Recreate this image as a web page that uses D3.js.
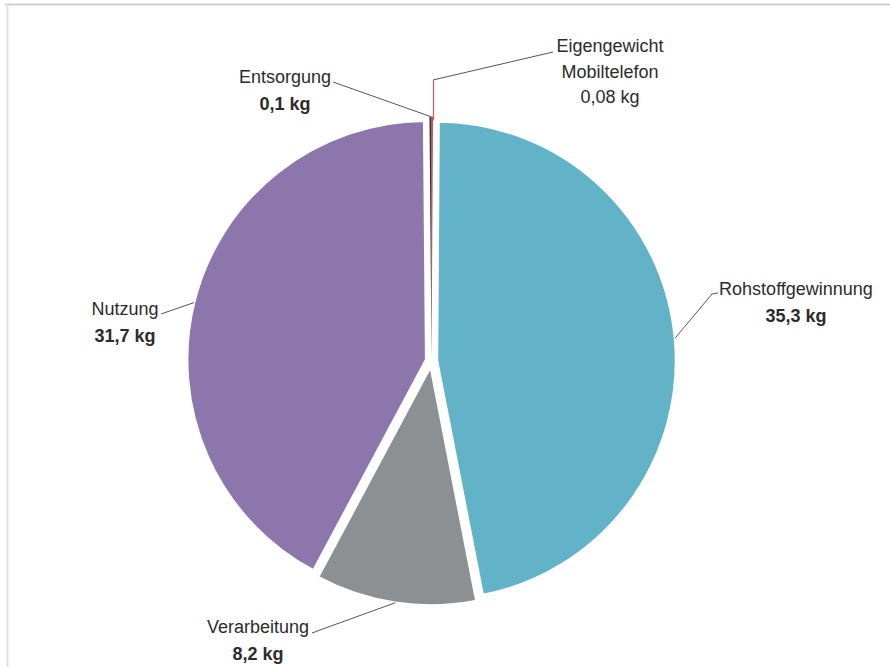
<!DOCTYPE html>
<html><head><meta charset="utf-8">
<script src="https://cdn.jsdelivr.net/npm/d3@7"></script>
<style>html,body{margin:0;padding:0;background:#fff;}svg{display:block;}</style>
</head><body>
<svg id="chart" width="890" height="667"></svg>
<script>
// Data
const categories = ["Eigengewicht Mobiltelefon", "Rohstoffgewinnung", "Verarbeitung", "Nutzung", "Entsorgung"];
const values = [0.08, 35.3, 8.2, 31.7, 0.1];
const nameLines = [["Eigengewicht", "Mobiltelefon"], ["Rohstoffgewinnung"], ["Verarbeitung"], ["Nutzung"], ["Entsorgung"]];
const valueLabels = ["0,08 kg", "35,3 kg", "8,2 kg", "31,7 kg", "0,1 kg"];
const boldValue = [false, true, true, true, true];
const colors = ["#c95a5f", "#62b2c8", "#8d9093", "#8c76ac", "#3f2b2e"];

// Layout
const W = 890, H = 667;
const cx = 431.5, cy = 361, R = 239, explode = 5.5;
// label anchor (text center x, first baseline y) per slice
const labelPos = [[610, 52], [796, 295], [258, 633], [125, 315], [285, 83]];
// elbow points of leader lines (text side)
const leaderText = [[[553, 52], [433, 80]], [[718, 293], [712, 294]], [[312, 633], [320, 630]], [[161, 314]], [[333, 82]]];

const svg = d3.select("#chart");
svg.append("line").attr("x1", 5).attr("x2", W).attr("y1", 4.5).attr("y2", 4.5)
  .attr("stroke", "#c4c4c4").attr("stroke-width", 1.5);
svg.append("line").attr("x1", 7.5).attr("x2", 7.5).attr("y1", 4).attr("y2", H)
  .attr("stroke", "#e2e2e2").attr("stroke-width", 2);

const pie = d3.pie().sort(null).value(d => d)
  .startAngle(0).endAngle(2 * Math.PI);
const arcs = pie(values);
const arcGen = d3.arc().innerRadius(0).outerRadius(R);

const g = svg.append("g").attr("transform", `translate(${cx},${cy})`);
function offset(a) {
  const m = (a.startAngle + a.endAngle) / 2;
  return [explode * Math.sin(m), -explode * Math.cos(m)];
}
g.selectAll("path.slice").data(arcs).enter().append("path")
  .attr("class", "slice")
  .attr("d", arcGen)
  .attr("transform", d => { const o = offset(d); return `translate(${o[0]},${o[1]})`; })
  .attr("fill", (d, i) => colors[i])
  .attr("stroke", (d, i) => values[i] < 1 ? "none" : "#fff")
  .attr("stroke-width", 2.5)
  .attr("stroke-linejoin", "round");

// leader lines
arcs.forEach((a, i) => {
  const m = (a.startAngle + a.endAngle) / 2;
  const o = offset(a);
  const ax = cx + o[0] + R * Math.sin(m), ay = cy + o[1] - R * Math.cos(m);
  const pts = leaderText[i].concat([[ax, ay]]);
  if (i === 0) {
    svg.append("path").attr("d", d3.line()(pts.slice(0, 2)))
      .attr("fill", "none").attr("stroke", "#555").attr("stroke-width", 1);
    svg.append("line").attr("x1", 433.5).attr("x2", 433.5)
      .attr("y1", pts[1][1]).attr("y2", ay + 4)
      .attr("stroke", colors[0]).attr("stroke-width", 1.2);
  } else {
    svg.append("path").attr("d", d3.line()(pts))
      .attr("fill", "none").attr("stroke", "#555").attr("stroke-width", 1);
  }
});

// labels
const font = "'Liberation Sans', Arial, sans-serif";
categories.forEach((c, i) => {
  const [tx, ty] = labelPos[i];
  const t = svg.append("text").attr("x", tx).attr("y", ty)
    .attr("text-anchor", "middle").attr("font-family", font)
    .attr("font-size", 18).attr("fill", "#2b2b2b");
  const lines = nameLines[i];
  lines.forEach((ln, j) => {
    t.append("tspan").attr("x", tx).attr("dy", j === 0 ? 0 : 25.5).text(ln);
  });
  t.append("tspan").attr("x", tx).attr("dy", lines.length > 1 ? 25.5 : 26.5)
    .attr("font-weight", boldValue[i] ? "bold" : "normal").text(valueLabels[i]);
});
</script>
</body></html>
